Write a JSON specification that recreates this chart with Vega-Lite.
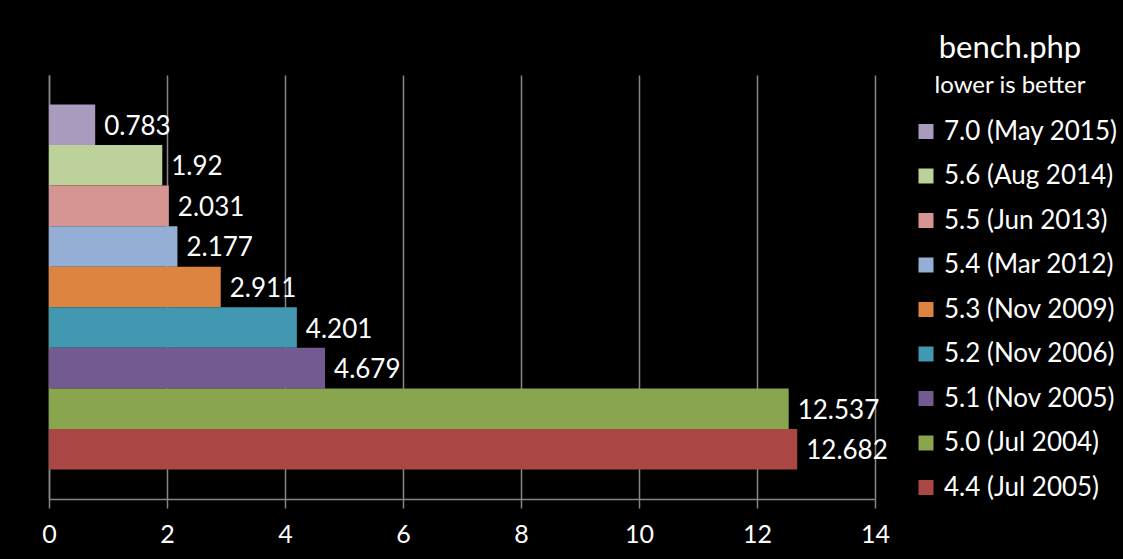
{
  "$schema": "https://vega.github.io/schema/vega-lite/v6.json",
  "width": 826,
  "height": 424,
  "autosize": {"type": "none"},
  "padding": {"left": 49, "top": 75, "right": 248, "bottom": 60},
  "background": "#000000",
  "config": {
    "view": {"stroke": null},
    "font": "Lato",
    "text": {"font": "Lato"}
  },
  "title": {
    "text": "bench.php",
    "subtitle": "lower is better",
    "frame": "group",
    "anchor": "end",
    "align": "center",
    "dx": 135,
    "offset": -24,
    "color": "#FFFFFF",
    "subtitleColor": "#FFFFFF",
    "fontSize": 31,
    "fontWeight": "normal",
    "subtitleFontSize": 24,
    "subtitlePadding": 9,
    "font": "Lato",
    "subtitleFont": "Lato"
  },
  "data": {
    "values": [
      {"version": "7.0 (May 2015)", "time": 0.783},
      {"version": "5.6 (Aug 2014)", "time": 1.92},
      {"version": "5.5 (Jun 2013)", "time": 2.031},
      {"version": "5.4 (Mar 2012)", "time": 2.177},
      {"version": "5.3 (Nov 2009)", "time": 2.911},
      {"version": "5.2 (Nov 2006)", "time": 4.201},
      {"version": "5.1 (Nov 2005)", "time": 4.679},
      {"version": "5.0 (Jul 2004)", "time": 12.537},
      {"version": "4.4 (Jul 2005)", "time": 12.682}
    ]
  },
  "encoding": {
    "y": {
      "field": "version",
      "type": "nominal",
      "sort": null,
      "scale": {"paddingInner": 0, "paddingOuter": 0.727},
      "axis": {
        "title": null,
        "labels": false,
        "ticks": false,
        "grid": false,
        "domainColor": "#868686",
        "domainWidth": 1.5
      }
    },
    "x": {
      "field": "time",
      "type": "quantitative",
      "scale": {"domain": [0, 14], "nice": false, "zero": true},
      "axis": {
        "title": null,
        "values": [0, 2, 4, 6, 8, 10, 12, 14],
        "grid": true,
        "gridColor": "#868686",
        "gridWidth": 1.5,
        "domainColor": "#868686",
        "domainWidth": 1.5,
        "tickColor": "#868686",
        "tickWidth": 1.5,
        "tickSize": 9,
        "labelColor": "#FFFFFF",
        "labelFontSize": 25,
        "labelFont": "Lato",
        "labelPadding": 14,
        "labelFlush": false
      }
    }
  },
  "layer": [
    {
      "mark": {"type": "bar"},
      "encoding": {
        "color": {
          "field": "version",
          "type": "nominal",
          "scale": {
            "domain": ["7.0 (May 2015)", "5.6 (Aug 2014)", "5.5 (Jun 2013)", "5.4 (Mar 2012)", "5.3 (Nov 2009)", "5.2 (Nov 2006)", "5.1 (Nov 2005)", "5.0 (Jul 2004)", "4.4 (Jul 2005)"],
            "range": ["#A99BBD", "#BDD19A", "#D69593", "#94AED5", "#DD8440", "#4298B0", "#735A90", "#89A54E", "#AA4643"]
          },
          "legend": {
            "title": null,
            "orient": "none",
            "legendX": 864,
            "legendY": 43.5,
            "symbolType": "square",
            "symbolSize": 225,
            "symbolStrokeWidth": 0,
            "symbolOpacity": 1,
            "labelColor": "#FFFFFF",
            "labelFontSize": 26,
            "labelFont": "Lato",
            "labelOffset": 5,
            "labelLimit": 300,
            "rowPadding": 18.5
          }
        }
      }
    },
    {
      "mark": {"type": "text", "align": "left", "baseline": "middle", "dx": 9, "dy": 2, "color": "#FFFFFF", "fontSize": 26, "font": "Lato"},
      "encoding": {
        "text": {"field": "time", "type": "quantitative", "format": ""}
      }
    }
  ]
}
